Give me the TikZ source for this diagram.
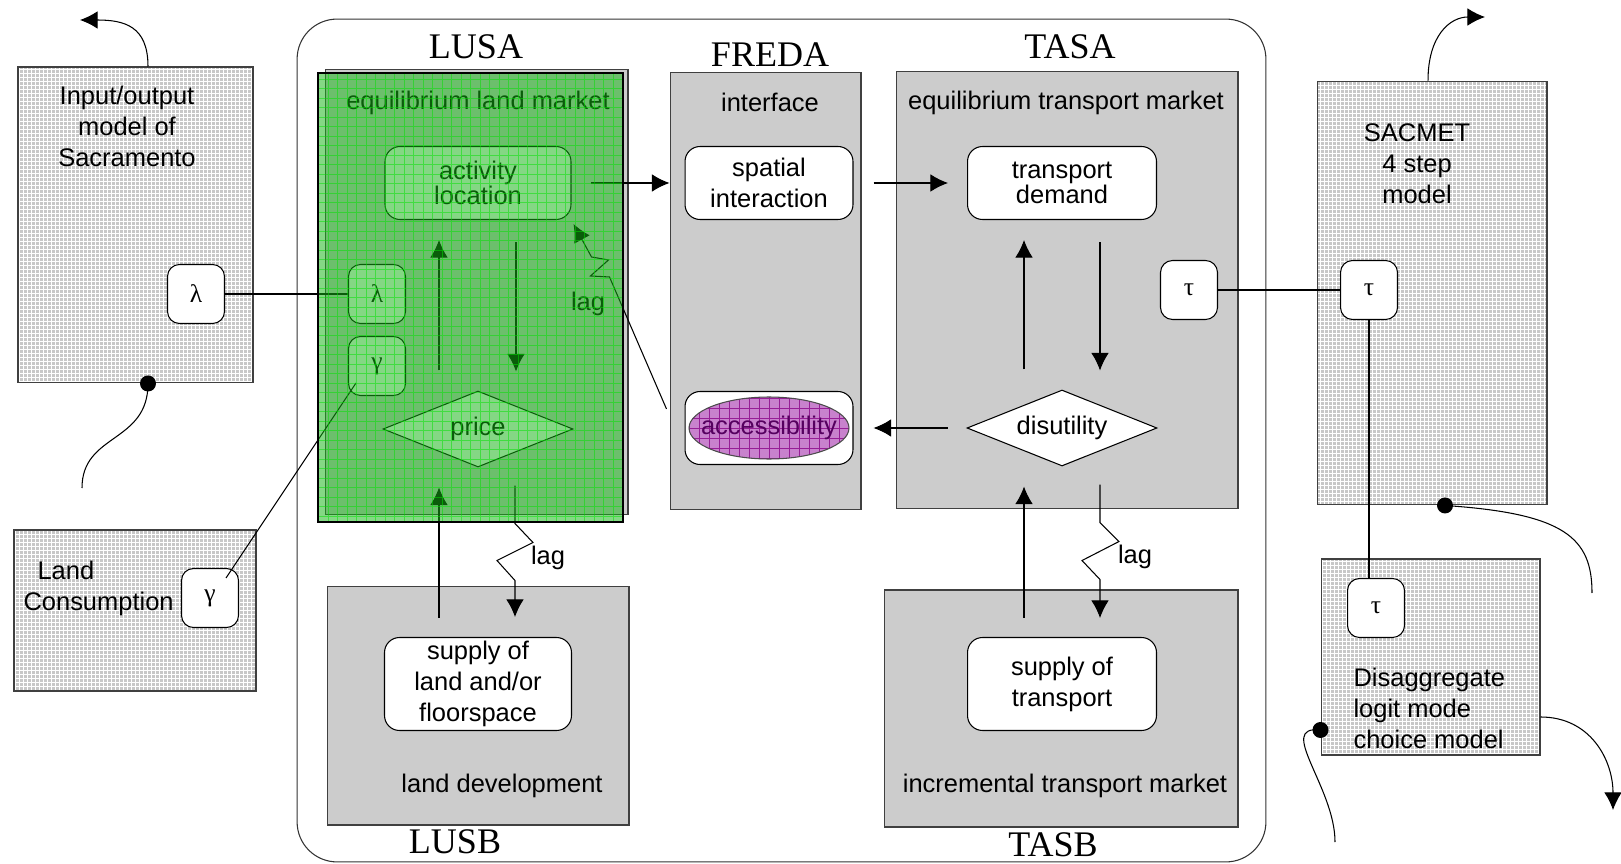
\documentclass[tikz,border=0pt]{standalone}
\usepackage{fontspec}
\setmainfont{Liberation Sans}
\newfontfamily\serifname{Liberation Serif}
\usetikzlibrary{positioning,shapes.geometric,arrows.meta}
\definecolor{boxgray}{RGB}{204,204,204}
\definecolor{meshgray}{RGB}{200,200,200}
\definecolor{veilgreen}{RGB}{20,180,20}
\definecolor{gridgreen}{RGB}{0,225,0}
\definecolor{orchidfill}{RGB}{200,130,205}
\definecolor{orchidline}{RGB}{150,30,150}
\definecolor{orchidtext}{RGB}{85,0,95}

\begin{document}
\begin{tikzpicture}[x=0.02cm, y=-0.02cm, semithick,
    every node/.style={font=\fontsize{14.5pt}{17.6pt}\selectfont},
    flow/.style={-{Latex[length=10pt,width=10pt]}},
    title/.style={font=\serifname\fontsize{20.5pt}{24pt}\selectfont, inner sep=0pt},
    caption/.style={inner sep=0pt, align=center},
    zonebox/.style={rectangle, draw=black!75, fill=boxgray, inner sep=0pt},
    meshbox/.style={rectangle, draw=black!75, fill=meshgray, inner sep=0pt,
      path picture={\draw[white, line width=0.45pt, step=0.08cm] (path picture bounding box.south west) grid (path picture bounding box.north east);}},
    proc/.style={rectangle, rounded corners=0.3cm, draw, fill=white, align=center, inner sep=0pt},
    param/.style={rectangle, rounded corners=0.24cm, draw, fill=white, minimum width=1.14cm, minimum height=1.18cm, inner sep=0pt, font=\serifname\fontsize{14.5pt}{17pt}\selectfont},
    choice/.style={diamond, draw, fill=white, aspect=2.5, minimum width=3.8cm, minimum height=1.52cm, inner sep=0pt},
    accell/.style={ellipse, draw=black!70, fill=orchidfill, minimum width=3.2cm, minimum height=1.24cm, inner sep=0pt,
      path picture={\draw[orchidline, line width=0.4pt, step=0.2cm] (path picture bounding box.south west) grid (path picture bounding box.north east);}},
    veil/.style={rectangle, draw=black, line width=1.6pt, fill=veilgreen, fill opacity=0.52, inner sep=0pt,
      path picture={\draw[gridgreen, draw opacity=0.5, line width=0.4pt, step=0.19cm] (path picture bounding box.south west) grid (path picture bounding box.north east);}}]

  \useasboundingbox (0,0) rectangle (1621,864);

  % outer frame
  \node[draw=black!80, rounded corners=0.8cm, minimum width=19.38cm, minimum height=16.86cm, inner sep=0pt] (frame) at (781.5,440.5) {};

  % outside models
  \node[meshbox, minimum width=4.7cm, minimum height=6.32cm] (IO) at (135.5,225) {};
  \node[meshbox, minimum width=4.84cm, minimum height=3.22cm] (LC) at (135,610.5) {};
  \node[meshbox, minimum width=4.6cm, minimum height=8.48cm] (SACMET) at (1432,293) {};
  \node[meshbox, minimum width=4.38cm, minimum height=3.92cm] (Disagg) at (1430.5,657) {};

  % sub-models
  \node[zonebox, minimum width=6.06cm, minimum height=8.92cm] (LUSA) at (476.5,292) {};
  \node[zonebox, minimum width=3.82cm, minimum height=8.76cm] (FREDA) at (765.5,291) {};
  \node[zonebox, minimum width=6.84cm, minimum height=8.76cm] (TASA) at (1067,290) {};
  \node[zonebox, minimum width=6.04cm, minimum height=4.78cm] (LUSB) at (478,705.5) {};
  \node[zonebox, minimum width=7.08cm, minimum height=4.74cm] (TASB) at (1061,708.5) {};

  \node[title] (LUSAname) at (476,47) {LUSA};
  \node[title] (FREDAname) at (770,55) {FREDA};
  \node[title] (TASAname) at (1070,47) {TASA};
  \node[title] (LUSBname) at (455,842) {LUSB};
  \node[title] (TASBname) at (1053,845) {TASB};

  \node[caption] (eqland) at (478,103) {equilibrium land market};
  \node[caption] (iface) at (770,102) {interface};
  \node[caption] (eqtrans) at (1066,103) {equilibrium transport market};
  \node[caption] (landdev) at (502,786) {land development};
  \node[caption] (incr) at (1065,786) {incremental transport market};
  \node[caption] (IOtext) at (127,126) {Input/output\\model of\\Sacramento};
  \node[caption] (SACtext) at (1417,164) {SACMET\\4 step\\model};
  \node[caption, align=left, anchor=west] (LCtext) at (23,588) {\hspace*{0.28cm}Land\\Consumption};
  \node[caption, align=left, anchor=west] (Distext) at (1353,708) {Disaggregate\\logit mode\\choice model};
  \node[caption] (lagA) at (588,304) {lag};
  \node[caption] (lagB) at (548,558) {lag};
  \node[caption] (lagC) at (1135,557) {lag};

  % processes
  \node[proc, minimum width=3.72cm, minimum height=1.46cm, font=\fontsize{14.5pt}{12.5pt}\selectfont] (actloc) at (478,183) {activity\\location};
  \node[choice] (price) at (478,429) {price};
  \node[proc, minimum width=3.74cm, minimum height=1.86cm] (landsup) at (478,684) {supply of\\land and/or\\floorspace};
  \node[proc, minimum width=3.36cm, minimum height=1.46cm] (spatial) at (769,183) {spatial\\interaction};
  \node[proc, minimum width=3.36cm, minimum height=1.46cm] (accbox) at (769,428) {};
  \node[accell, label={[text=orchidtext]center:accessibility}] (access) at (769,428) {};
  \node[proc, minimum width=3.78cm, minimum height=1.46cm, font=\fontsize{14.5pt}{14pt}\selectfont] (tdemand) at (1062,183) {transport\\demand};
  \node[choice] (disut) at (1062,428) {disutility};
  \node[proc, minimum width=3.78cm, minimum height=1.86cm] (tsup) at (1062,684) {supply of\\transport};

  % parameters
  \node[param] (IOlam) at (196,294) {λ};
  \node[param] (LCgam) at (210,598) {γ};
  \node[param] (Llam) at (377,294) {λ};
  \node[param] (Lgam) at (377,366) {γ};
  \node[param] (Ttau) at (1189,290) {τ};
  \node[param] (Stau) at (1369,290) {τ};
  \node[param] (Dtau) at (1376,608) {τ};

  % links
  \draw (IOlam.east) -- (Llam.west);
  \draw ([xshift=0.16cm,yshift=0.26cm]Lgam.south west) -- ([xshift=-0.26cm,yshift=-0.2cm]LCgam.north east);
  \draw (Ttau.east) -- (Stau.west);
  \draw (Stau.south) -- (Stau.south |- Dtau.north);

  \draw[flow] ([xshift=0.38cm]actloc.east) -- (actloc.east -| FREDA.west);
  \draw[flow] ([xshift=0.4cm]spatial.east) -- ([xshift=-0.38cm]tdemand.west);
  \draw[flow] ([xshift=-0.38cm]disut.west) -- ([xshift=0.4cm]accbox.east);

  \draw[flow] ([xshift=-0.78cm,yshift=0.4cm]price.north) -- ([xshift=-0.78cm,yshift=-0.4cm]actloc.south);
  \draw[flow] ([xshift=0.76cm,yshift=-0.44cm]actloc.south) -- ([xshift=0.76cm,yshift=0.38cm]price.north);
  \draw[flow] ([xshift=-0.78cm,yshift=0.38cm]landsup.north) -- ([xshift=-0.78cm,yshift=-0.4cm]price.south);
  \draw[flow] ([xshift=0.74cm,yshift=-0.36cm]price.south) -- ++(0,38) -- ++(18,19) -- ++(-36,18) -- ++(18,20) -- ([xshift=0.74cm,yshift=0.4cm]landsup.north);

  \draw[flow] ([xshift=-0.76cm,yshift=0.4cm]disut.north) -- ([xshift=-0.76cm,yshift=-0.4cm]tdemand.south);
  \draw[flow] ([xshift=0.76cm,yshift=-0.44cm]tdemand.south) -- ([xshift=0.76cm,yshift=0.38cm]disut.north);
  \draw[flow] ([xshift=-0.76cm,yshift=0.38cm]tsup.north) -- ([xshift=-0.76cm,yshift=-0.4cm]disut.south);
  \draw[flow] ([xshift=0.76cm,yshift=-0.36cm]disut.south) -- ++(0,38) -- ++(19,19) -- ++(-37,19) -- ++(18,19) -- ([xshift=0.76cm,yshift=0.38cm]tsup.north);

  \draw[flow] ([xshift=-0.36cm,yshift=-0.36cm]accbox.north west) -- ++(-57,-132) -- ++(-19,-1) -- ++(18,-16) -- ++(-17,-3) -- ([xshift=0.04cm,yshift=-0.08cm]actloc.south east);

  % links to outside world
  \coordinate (IOout) at (80,20);
  \coordinate (IOin) at (82,488);
  \coordinate (SACout) at (1485,17);
  \coordinate (SACin) at (1592,593);
  \coordinate (DISout) at (1613,810);
  \coordinate (DISin) at (1335,842);
  \draw[flow] ([xshift=0.25cm]IO.north) .. controls +(0,-40) and +(45,0) .. (IOout);
  \fill ([xshift=0.25cm]IO.south) circle (0.16cm);
  \draw ([xshift=0.25cm]IO.south) .. controls +(0,60) and +(0,-55) .. (IOin);
  \draw[flow] ([xshift=-0.08cm]SACMET.north) .. controls +(0,-45) and +(-35,0) .. (SACout);
  \fill ([xshift=0.26cm]SACMET.south) circle (0.16cm);
  \draw ([xshift=0.26cm]SACMET.south) .. controls +(120,8) and +(0,-55) .. (SACin);
  \draw[flow] ([yshift=-1.2cm]Disagg.east) .. controls +(50,0) and +(0,-50) .. (DISout);
  \fill ([yshift=-1.46cm]Disagg.west) circle (0.16cm);
  \draw ([yshift=-1.46cm]Disagg.west) .. controls +(-45,-5) and +(0,-55) .. (DISin);

  % green veil over the land market
  \node[veil, minimum width=6.1cm, minimum height=8.98cm] (LUSAveil) at (470.5,297.5) {};
\end{tikzpicture}
\end{document}
